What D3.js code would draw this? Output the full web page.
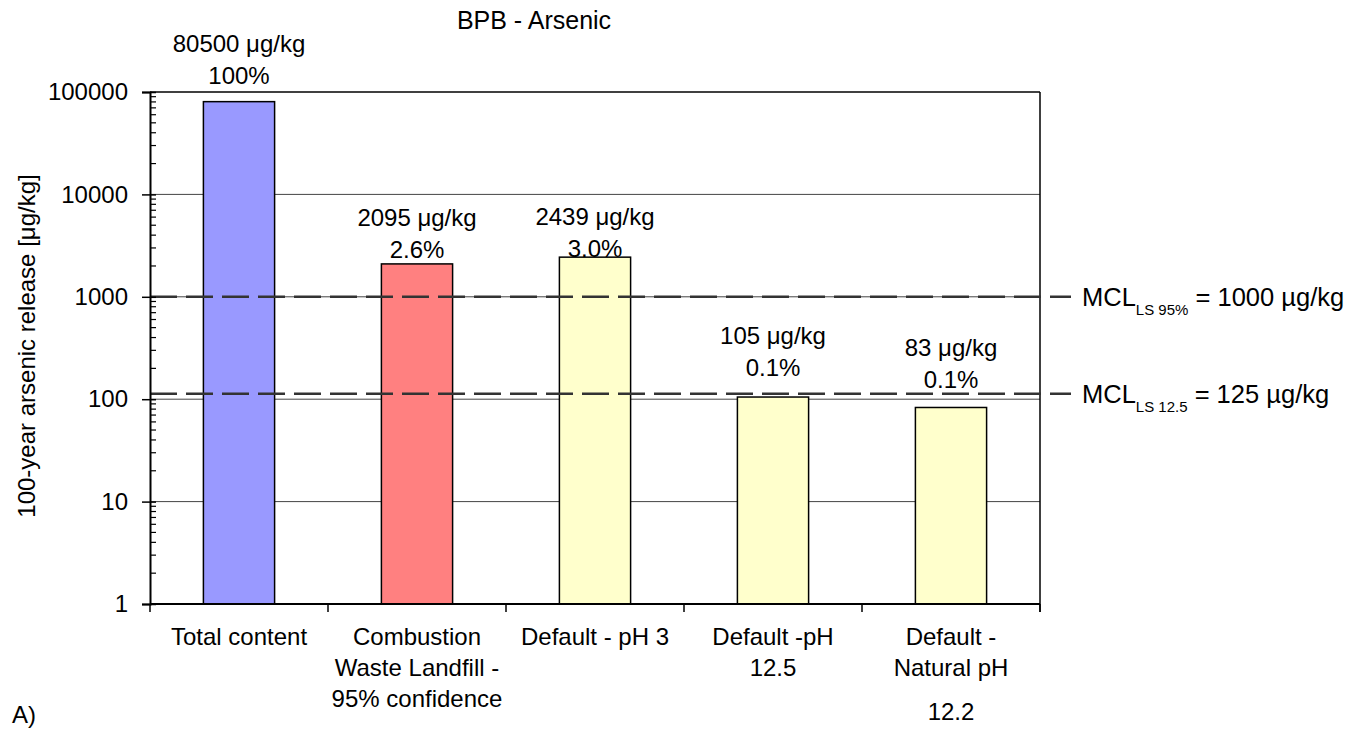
<!DOCTYPE html>
<html>
<head>
<meta charset="utf-8">
<script src="https://cdn.jsdelivr.net/npm/d3@7"></script>
<style>
  html, body { margin: 0; padding: 0; background: #fff; }
  svg { display: block; font-family: Arial, "Liberation Sans", sans-serif; }
</style>
</head>
<body>
<svg id="chart" width="1364" height="733"></svg>
<script>
// ---- data ----
const categories = [
  ["Total content"],
  ["Combustion", "Waste Landfill -", "95% confidence"],
  ["Default - pH 3"],
  ["Default -pH", "12.5"],
  ["Default -", "Natural pH", "12.2"]
];
const values = [80500, 2095, 2439, 105, 83];
const valueLabels = ["80500 \u03bcg/kg", "2095 \u03bcg/kg", "2439 \u03bcg/kg", "105 \u03bcg/kg", "83 \u03bcg/kg"];
const percentLabels = ["100%", "2.6%", "3.0%", "0.1%", "0.1%"];
const barColors = ["#9999FF", "#FF8080", "#FFFFCC", "#FFFFCC", "#FFFFCC"];
const yTicks = [1, 10, 100, 1000, 10000, 100000];
const mclValues = [1000, 113];
const mclSubs = ["LS 95%", "LS 12.5"];
const mclTexts = [" = 1000 \u00b5g/kg", " = 125 \u00b5g/kg"];
const title = "BPB - Arsenic";
const yTitle = "100-year arsenic release [\u03bcg/kg]";

// ---- layout ----
const L = 150, R = 1040, T = 92, B = 604;
const FS = 24;
const labelGap = [26, 14, 9, 29, 28];

const svg = d3.select("#chart");
const idx = d3.range(categories.length);

const x = d3.scaleBand().domain(idx).range([L, R]).paddingInner(0.6).paddingOuter(0.3);
const y = d3.scaleLog().domain([1, 100000]).range([B, T]);

// gridlines
svg.append("g").selectAll("line").data(yTicks.filter(d => d > 1 && d < 100000)).join("line")
  .attr("x1", L).attr("x2", R).attr("y1", d => y(d)).attr("y2", d => y(d))
  .attr("stroke", "#444").attr("stroke-width", 1);
// top line
svg.append("line").attr("x1", L).attr("x2", R).attr("y1", y(100000)).attr("y2", y(100000))
  .attr("stroke", "#000").attr("stroke-width", 1.5);
// right border
svg.append("line").attr("x1", R).attr("x2", R).attr("y1", T).attr("y2", B + 8)
  .attr("stroke", "#000").attr("stroke-width", 1.5);

// bars
svg.append("g").selectAll("rect").data(idx).join("rect")
  .attr("x", i => x(i)).attr("width", x.bandwidth())
  .attr("y", i => y(values[i])).attr("height", i => B - y(values[i]))
  .attr("fill", i => barColors[i]).attr("stroke", "#000").attr("stroke-width", 1.5);

// MCL dashed lines
svg.append("g").selectAll("line").data(mclValues).join("line")
  .attr("x1", L).attr("x2", 1071).attr("y1", d => y(d)).attr("y2", d => y(d))
  .attr("stroke", "#333").attr("stroke-width", 2.5).attr("stroke-dasharray", "27,9");

// MCL labels
mclValues.forEach((v, i) => {
  const t = svg.append("text").attr("x", 1082).attr("y", y(v)).attr("dy", "0.35em")
    .attr("font-size", 25.5).attr("fill", "#000");
  t.append("tspan").text("MCL");
  t.append("tspan").attr("font-size", 15).attr("dy", 9).text(mclSubs[i]);
  t.append("tspan").attr("dy", -9).text(mclTexts[i]);
});

// y axis
const yAxis = d3.axisLeft(y).tickValues(yTicks).tickFormat(d3.format("d")).tickSize(8).tickPadding(14);
const gy = svg.append("g").attr("transform", `translate(${L},0)`).call(yAxis);
gy.select(".domain").attr("stroke", "#000").attr("stroke-width", 2);
gy.selectAll(".tick line").attr("stroke", "#000").attr("stroke-width", 1.5).attr("x2", 6).attr("x1", -8);
gy.selectAll(".tick text").attr("font-size", FS).attr("fill", "#000").attr("font-family", "Arial, 'Liberation Sans', sans-serif");
// minor ticks
const minor = [];
for (let e = 0; e < 5; e++) for (let m = 2; m <= 9; m++) minor.push(m * Math.pow(10, e));
svg.append("g").selectAll("line").data(minor).join("line")
  .attr("x1", L).attr("x2", L + 6).attr("y1", d => y(d)).attr("y2", d => y(d))
  .attr("stroke", "#000").attr("stroke-width", 1.2);

// x axis
svg.append("line").attr("x1", L).attr("x2", R).attr("y1", B).attr("y2", B)
  .attr("stroke", "#000").attr("stroke-width", 2);
const edges = d3.range(categories.length + 1).map(i => L + i * x.step());
svg.append("g").selectAll("line").data(edges).join("line")
  .attr("x1", d => d).attr("x2", d => d).attr("y1", B).attr("y2", B + 8)
  .attr("stroke", "#000").attr("stroke-width", 1.5);

// x labels
idx.forEach(i => {
  const cx = x(i) + x.bandwidth() / 2;
  const t = svg.append("text").attr("text-anchor", "middle").attr("font-size", FS).attr("fill", "#000");
  categories[i].forEach((line, j) => {
    let yy = 645 + j * 31;
    if (i === 4 && j === 2) yy += 13;
    t.append("tspan").attr("x", cx).attr("y", yy).text(line);
  });
});

// value labels
idx.forEach(i => {
  const cx = x(i) + x.bandwidth() / 2;
  const base = y(values[i]) - labelGap[i];
  svg.append("text").attr("x", cx).attr("y", base).attr("dy", "0.35em")
    .attr("text-anchor", "middle").attr("font-size", FS).text(percentLabels[i]);
  svg.append("text").attr("x", cx).attr("y", base - 32).attr("dy", "0.35em")
    .attr("text-anchor", "middle").attr("font-size", FS).text(valueLabels[i]);
});

// title
svg.append("text").attr("x", 534).attr("y", 20).attr("dy", "0.35em").attr("text-anchor", "middle")
  .attr("font-size", 25).text(title);

// y title
svg.append("text").attr("transform", "translate(27,346) rotate(-90)").attr("dy", "0.35em")
  .attr("text-anchor", "middle").attr("font-size", FS).text(yTitle);

// panel label
svg.append("text").attr("x", 12).attr("y", 715).attr("dy", "0.35em").attr("font-size", FS).text("A)");
</script>
</body>
</html>
